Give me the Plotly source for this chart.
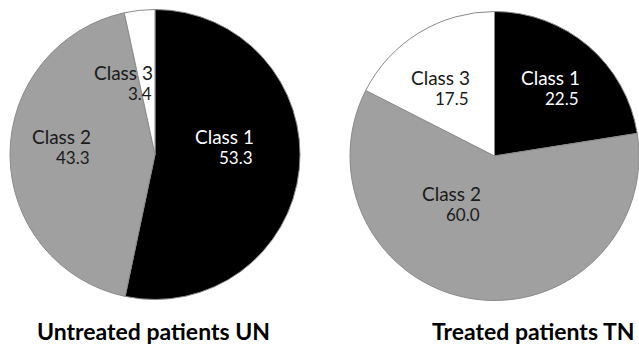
import plotly.graph_objects as go

# Class distribution (%) for the two patient groups
classes = ["Class 1", "Class 2", "Class 3"]
untreated_pct = [53.3, 43.3, 3.4]
treated_pct = [22.5, 60.0, 17.5]
group_titles = ["Untreated patients UN", "Treated patients TN"]

W, H = 639, 346
slice_colors = ["#000000", "#a0a0a0", "#ffffff"]
label_colors = ["#ffffff", "#1a1a1a", "#1a1a1a"]
FONT = "Lato"


def px_x(x):
    return x / W


def px_y(y):
    return 1 - y / H


fig = go.Figure()

pie_domains = [
    dict(x=[px_x(10), px_x(300)], y=[px_y(300), px_y(9)]),
    dict(x=[px_x(350), 1.0], y=[px_y(301), px_y(11)]),
]

for values, dom in zip([untreated_pct, treated_pct], pie_domains):
    fig.add_trace(go.Pie(
        labels=classes,
        values=values,
        sort=False,
        direction="clockwise",
        rotation=0,
        domain=dom,
        textinfo="none",
        hoverinfo="label+value",
        marker=dict(colors=slice_colors, line=dict(color="#8a8a8a", width=1)),
        showlegend=False,
    ))

# label anchor points (right edge x, name-line y) in pixels for each slice
label_anchors = [
    [(256, 137), (93, 137), (155, 72)],
    [(582, 77), (483, 193), (472, 77)],
]

annotations = []
for values, anchors in zip([untreated_pct, treated_pct], label_anchors):
    for name, val, (ax, ay), col in zip(classes, values, anchors, label_colors):
        annotations.append(dict(
            x=px_x(ax), y=px_y(ay), xref="paper", yref="paper",
            text=name, showarrow=False, xanchor="right", yanchor="middle",
            font=dict(family=FONT, size=19, color=col),
        ))
        annotations.append(dict(
            x=px_x(ax - 1), y=px_y(ay + 21), xref="paper", yref="paper",
            text=f"{val:.1f}", showarrow=False, xanchor="right", yanchor="middle",
            font=dict(family=FONT, size=17, color=col),
        ))

title_centers = [(153.5, 331), (533, 331)]
for title, (tx, ty) in zip(group_titles, title_centers):
    annotations.append(dict(
        x=px_x(tx), y=px_y(ty), xref="paper", yref="paper",
        text=f"<b>{title}</b>", showarrow=False, xanchor="center", yanchor="middle",
        font=dict(family=FONT, size=23, color="#000000"),
    ))

fig.update_layout(
    width=W, height=H,
    margin=dict(l=0, r=0, t=0, b=0),
    paper_bgcolor="#ffffff",
    plot_bgcolor="#ffffff",
    annotations=annotations,
)

fig.write_html("out.html")
